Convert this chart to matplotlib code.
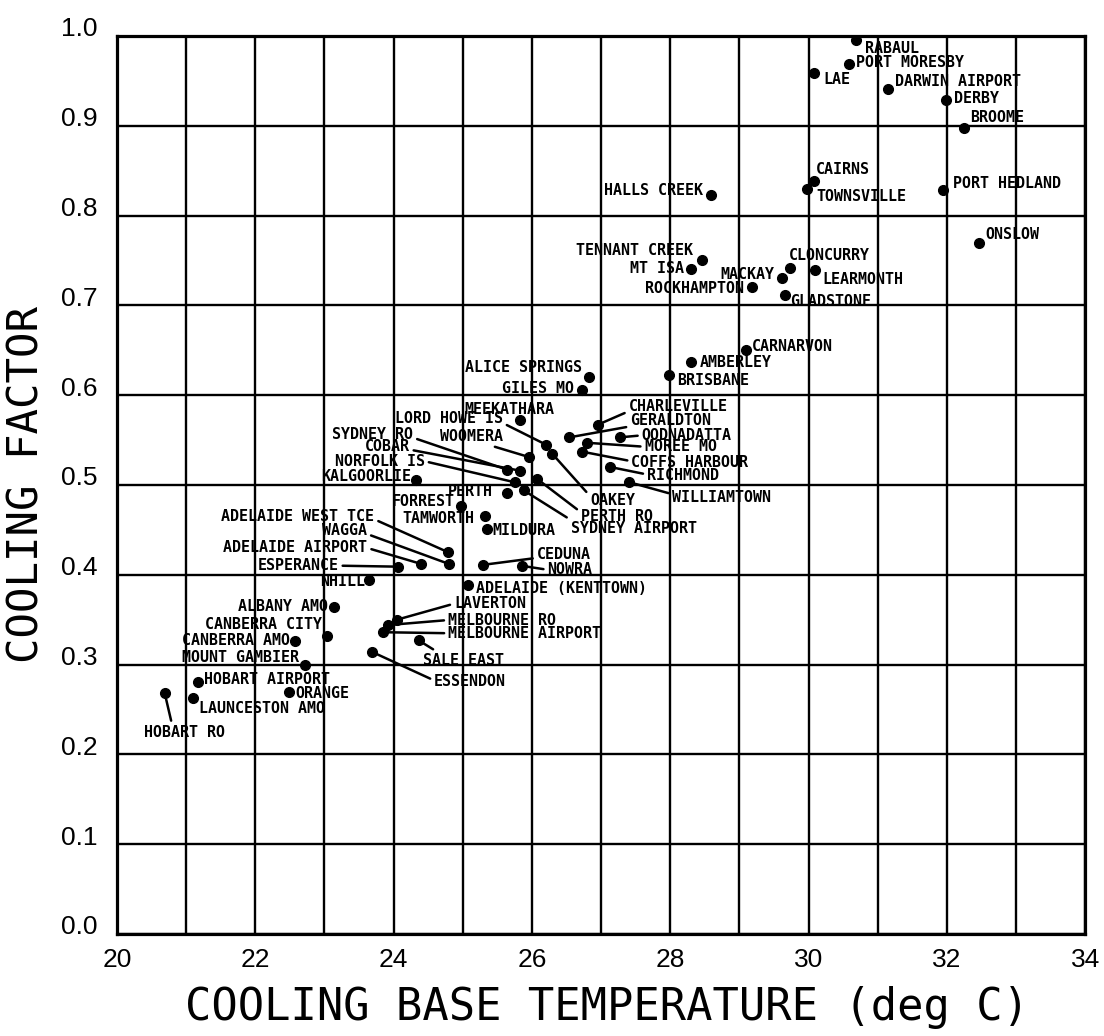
import matplotlib.pyplot as plt
from matplotlib.transforms import ScaledTranslation

# station values (cooling base temperature, cooling factor)
stations = [
    'RABAUL', 'PORT MORESBY', 'LAE', 'DARWIN AIRPORT', 'DERBY', 'BROOME',
    'CAIRNS', 'TOWNSVILLE', 'HALLS CREEK', 'PORT HEDLAND', 'ONSLOW',
    'TENNANT CREEK', 'MT ISA', 'CLONCURRY', 'MACKAY', 'LEARMONTH',
    'ROCKHAMPTON', 'GLADSTONE', 'CARNARVON', 'AMBERLEY', 'BRISBANE',
    'ALICE SPRINGS', 'GILES MO', 'MEEKATHARA', 'LORD HOWE IS', 'CHARLEVILLE',
    'GERALDTON', 'OODNADATTA', 'MOREE MO', 'COFFS HARBOUR', 'RICHMOND',
    'WILLIAMTOWN', 'SYDNEY RO', 'WOOMERA', 'COBAR', 'NORFOLK IS',
    'KALGOORLIE', 'OAKEY', 'PERTH RO', 'SYDNEY AIRPORT', 'PERTH', 'FORREST',
    'TAMWORTH', 'MILDURA', 'ADELAIDE WEST TCE', 'WAGGA', 'ADELAIDE AIRPORT',
    'ESPERANCE', 'CEDUNA', 'NOWRA', 'NHILL', 'ADELAIDE (KENTTOWN)',
    'ALBANY AMO', 'LAVERTON', 'MELBOURNE RO', 'MELBOURNE AIRPORT',
    'CANBERRA CITY', 'CANBERRA AMO', 'MOUNT GAMBIER', 'SALE EAST', 'ESSENDON',
    'HOBART AIRPORT', 'ORANGE', 'LAUNCESTON AMO', 'HOBART RO',
]
base_temp = [
    30.69, 30.58, 30.08, 31.15, 31.98, 32.24,
    30.08, 29.98, 28.59, 31.94, 32.47,
    28.46, 28.30, 29.73, 29.61, 30.09,
    29.18, 29.66, 29.09, 28.30, 27.98,
    26.83, 26.72, 25.82, 26.20, 26.95,
    26.54, 27.27, 26.79, 26.73, 27.13,
    27.41, 25.64, 25.96, 25.82, 25.75,
    24.33, 26.29, 26.07, 25.88, 25.64, 24.98,
    25.32, 25.35, 24.79, 24.80, 24.40,
    24.07, 25.29, 25.85, 23.64, 25.08,
    23.14, 24.05, 23.92, 23.85,
    23.03, 22.58, 22.72, 24.36, 23.69,
    21.17, 22.49, 21.10, 20.69,
]
cooling_factor = [
    0.995, 0.969, 0.959, 0.941, 0.929, 0.898,
    0.838, 0.830, 0.823, 0.828, 0.769,
    0.750, 0.741, 0.742, 0.731, 0.739,
    0.720, 0.712, 0.650, 0.637, 0.622,
    0.620, 0.606, 0.572, 0.545, 0.567,
    0.553, 0.553, 0.547, 0.537, 0.520,
    0.503, 0.517, 0.531, 0.516, 0.503,
    0.506, 0.535, 0.507, 0.494, 0.491, 0.477,
    0.465, 0.451, 0.425, 0.412, 0.412,
    0.409, 0.411, 0.410, 0.394, 0.389,
    0.364, 0.350, 0.344, 0.336,
    0.332, 0.326, 0.300, 0.327, 0.314,
    0.281, 0.269, 0.263, 0.268,
]

# label layout: pixel offset from the dot, alignment, leader-line start (relpos) or None
label_layout = {
    'RABAUL': (9, -8, 'left', None),
    'PORT MORESBY': (7, 1, 'left', None),
    'LAE': (9, -7, 'left', None),
    'DARWIN AIRPORT': (7, 7, 'left', None),
    'DERBY': (8, 1, 'left', None),
    'BROOME': (7, 10, 'left', None),
    'CAIRNS': (2, 12, 'left', None),
    'TOWNSVILLE': (9, -8, 'left', None),
    'HALLS CREEK': (-8, 4, 'right', None),
    'PORT HEDLAND': (10, 7, 'left', None),
    'ONSLOW': (6, 9, 'left', None),
    'TENNANT CREEK': (-9, 10, 'right', None),
    'MT ISA': (-7, 0, 'right', None),
    'CLONCURRY': (-1, 12, 'left', None),
    'MACKAY': (-7, 3, 'right', None),
    'LEARMONTH': (8, -9, 'left', None),
    'ROCKHAMPTON': (-8, -1, 'right', None),
    'GLADSTONE': (5, -7, 'left', None),
    'CARNARVON': (6, 4, 'left', None),
    'AMBERLEY': (9, -1, 'left', None),
    'BRISBANE': (8, -5, 'left', None),
    'ALICE SPRINGS': (-7, 10, 'right', None),
    'GILES MO': (-8, 1, 'right', None),
    'MEEKATHARA': (-55, 11, 'left', None),
    'LORD HOWE IS': (-43, 26, 'right', (1, 0.2)),
    'CHARLEVILLE': (31, 18, 'left', (0, 0.2)),
    'GERALDTON': (61, 17, 'left', (0, 0.1)),
    'OODNADATTA': (22, 2, 'left', (0, 0.5)),
    'MOREE MO': (58, -4, 'left', (0, 0.5)),
    'COFFS HARBOUR': (49, -11, 'left', (0, 0.6)),
    'RICHMOND': (37, -9, 'left', (0, 0.6)),
    'WILLIAMTOWN': (43, -15, 'left', (0, 0.7)),
    'SYDNEY RO': (-94, 35, 'right', (1, 0.3)),
    'WOOMERA': (-26, 21, 'right', (0.7, 0)),
    'COBAR': (-110, 24, 'right', (1, 0.3)),
    'NORFOLK IS': (-90, 21, 'right', (1, 0.5)),
    'KALGOORLIE': (-5, 3, 'right', None),
    'OAKEY': (38, -47, 'left', (0, 0.8)),
    'PERTH RO': (44, -38, 'left', (0, 0.8)),
    'SYDNEY AIRPORT': (47, -38, 'left', (0.05, 0.8)),
    'PERTH': (-14, 2, 'right', None),
    'FORREST': (-7, 4, 'right', None),
    'TAMWORTH': (-11, -2, 'right', None),
    'MILDURA': (5, -2, 'left', None),
    'ADELAIDE WEST TCE': (-74, 36, 'right', (1, 0.3)),
    'WAGGA': (-82, 33, 'right', (1, 0.3)),
    'ADELAIDE AIRPORT': (-54, 16, 'right', (1, 0.5)),
    'ESPERANCE': (-60, 1, 'right', (1, 0.5)),
    'CEDUNA': (54, 10, 'left', (0, 0.3)),
    'NOWRA': (26, -4, 'left', (0, 0.5)),
    'NHILL': (-4, -1, 'right', None),
    'ADELAIDE (KENTTOWN)': (8, -4, 'left', None),
    'ALBANY AMO': (-6, 1, 'right', None),
    'LAVERTON': (57, 16, 'left', (0, 0.5)),
    'MELBOURNE RO': (60, 5, 'left', (0, 0.5)),
    'MELBOURNE AIRPORT': (65, -1, 'left', (0, 0.5)),
    'CANBERRA CITY': (-5, 11, 'right', None),
    'CANBERRA AMO': (-5, 1, 'right', None),
    'MOUNT GAMBIER': (-6, 7, 'right', None),
    'SALE EAST': (4, -20, 'left', (0.2, 1)),
    'ESSENDON': (62, -30, 'left', (0, 0.6)),
    'HOBART AIRPORT': (6, 2, 'left', None),
    'ORANGE': (6, -1, 'left', None),
    'LAUNCESTON AMO': (6, -11, 'left', None),
    'HOBART RO': (-21, -39, 'left', (0.35, 1)),
}

x_ticks = list(range(20, 35, 2))
y_ticks = [i / 10 for i in range(11)]

fig = plt.figure(figsize=(11.04, 10.36), dpi=100)
ax = fig.add_axes([0.106, 0.0985, 0.877, 0.8668])

ax.plot(base_temp, cooling_factor, 'o', color='black', ms=7, zorder=3)

label_font = dict(family='DejaVu Sans Mono', weight='bold', size=10.8)
for name, x, y in zip(stations, base_temp, cooling_factor):
    dx, dy, ha, rel = label_layout[name]
    arrow = None
    if rel is not None:
        arrow = dict(arrowstyle='-', color='black', lw=1.8, relpos=rel,
                     shrinkA=1, shrinkB=3)
    ax.annotate(name, (x, y), xytext=(dx, dy), textcoords='offset pixels',
                ha=ha, va='center', arrowprops=arrow, zorder=4, **label_font)

ax.set_xlim(20, 34)
ax.set_ylim(0, 1)
ax.set_xticks(x_ticks)
ax.set_xticks(range(20, 35), minor=True)
ax.set_yticks(y_ticks)
ax.set_yticklabels([f'{v:.1f}' for v in y_ticks])
ax.grid(True, which='both', color='black', lw=1.7)
ax.tick_params(which='both', length=0)
ax.tick_params(axis='y', pad=14, labelsize=19)
ax.tick_params(axis='x', pad=10, labelsize=19)
for lbl in ax.get_xticklabels() + ax.get_yticklabels():
    lbl.set_family('Liberation Sans')
shift = ScaledTranslation(0, 0.09, fig.dpi_scale_trans)
for lbl in ax.get_yticklabels():
    lbl.set_transform(lbl.get_transform() + shift)
for side in ax.spines.values():
    side.set_linewidth(2.3)
ax.set_axisbelow(True)

ax.set_xlabel('COOLING BASE TEMPERATURE (deg C)', family='DejaVu Sans Mono', size=31.5)
ax.set_ylabel('COOLING FACTOR', family='DejaVu Sans Mono', size=30.5)
ax.xaxis.set_label_coords(0.506, -0.058)
ax.yaxis.set_label_coords(-0.072, 0.5)

fig.savefig('out.png', dpi=100)
